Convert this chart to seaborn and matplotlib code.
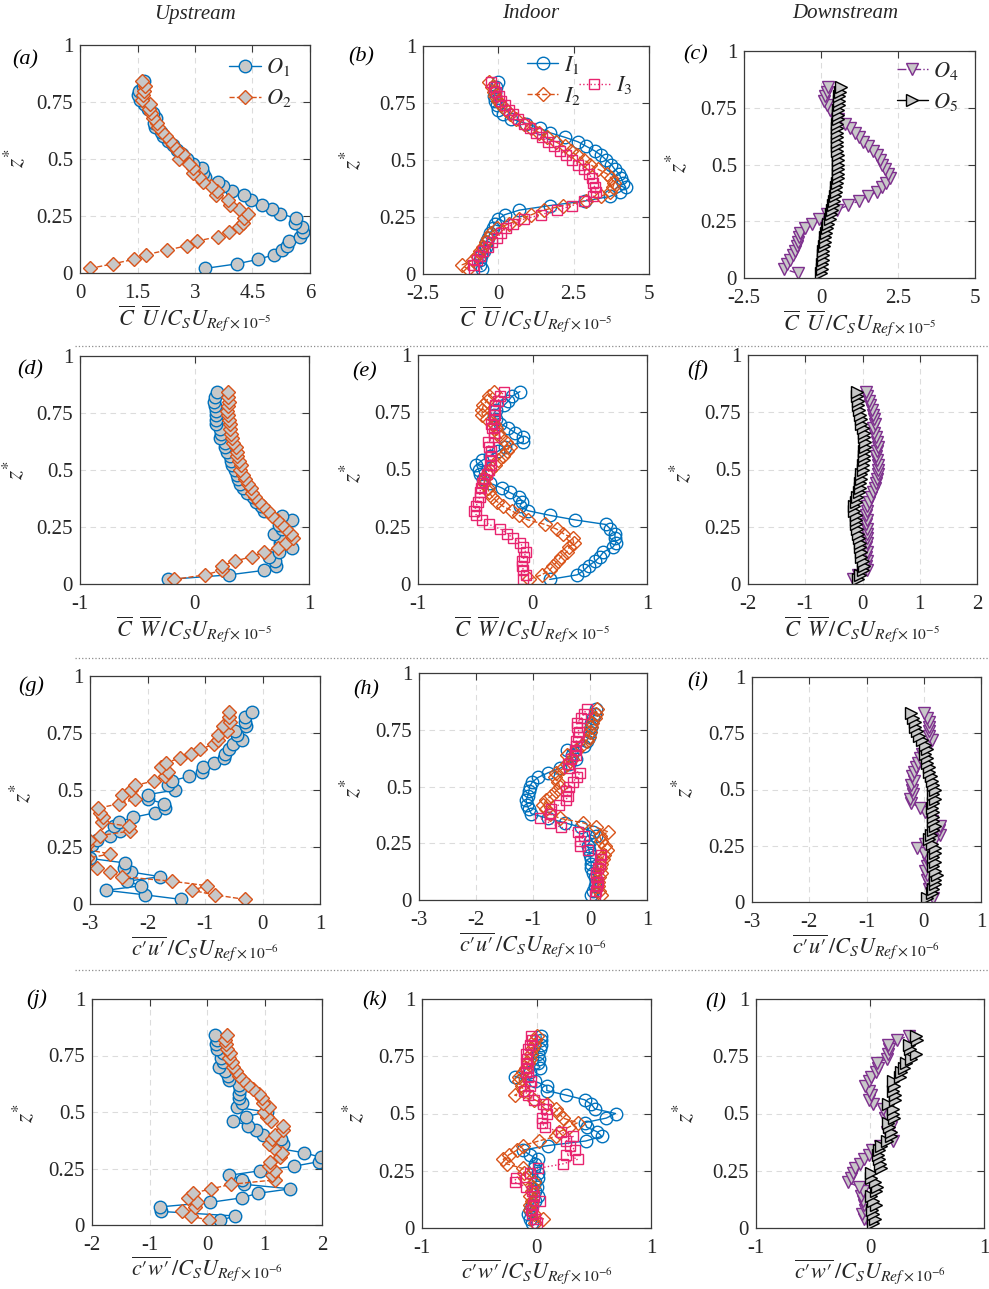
import matplotlib
matplotlib.use('Agg')
import matplotlib.pyplot as plt
import seaborn as sns
from matplotlib.lines import Line2D

# heights z* (same for every profile)
Z = [0.02, 0.04, 0.06, 0.08, 0.10, 0.12, 0.14, 0.16, 0.18, 0.20,
     0.22, 0.24, 0.26, 0.28, 0.30, 0.32, 0.34, 0.36, 0.38, 0.40,
     0.42, 0.44, 0.46, 0.48, 0.50, 0.52, 0.54, 0.56, 0.58, 0.60,
     0.62, 0.64, 0.66, 0.68, 0.70, 0.72, 0.74, 0.76, 0.78, 0.80,
     0.82, 0.84]

# row 1 : C U
a_O1 = [3.26, 4.09, 4.65, 5.06, 5.26, 5.39, 5.45, 5.74, 5.83, 5.80, 5.61, 5.63, 5.23, 5.02, 4.74, 4.45, 4.29, 3.97, 3.72, 3.59,
        3.26, 3.22, 3.17, 2.94, 2.80, 2.65, 2.54, 2.43, 2.30, 2.17, 2.10, 1.96, 1.93, 1.97, 1.90, 1.78, 1.67, 1.57, 1.50, 1.55, 1.65, 1.67]
a_O2 = [0.26, 0.85, 1.41, 1.71, 2.26, 2.80, 3.06, 3.61, 3.90, 4.14, 4.26, 4.29, 4.37, 4.14, 3.91, 3.85, 3.55, 3.57, 3.42, 3.22,
        3.11, 2.96, 2.94, 2.84, 2.57, 2.68, 2.54, 2.43, 2.35, 2.24, 2.13, 2.04, 2.02, 1.91, 1.84, 1.81, 1.83, 1.63, 1.65, 1.67, 1.70, 1.63]
b_I1 = [-0.54, -0.62, -0.60, -0.56, -0.49, -0.42, -0.40, -0.33, -0.27, -0.18, -0.12, -0.01, 0.21, 0.69, 1.70, 2.86, 3.70, 4.03, 4.23, 4.14,
        4.08, 4.00, 3.86, 3.75, 3.58, 3.42, 3.20, 2.92, 2.64, 2.20, 1.70, 1.37, 0.93, 0.43, 0.15, 0.00, -0.05, -0.10, -0.15, -0.12, -0.07, 0.00]
b_I2 = [-1.00, -1.20, -0.85, -0.70, -0.60, -0.50, -0.42, -0.35, -0.25, -0.05, 0.35, 0.70, 1.10, 1.50, 2.15, 2.90, 3.40, 3.70, 3.80, 3.85,
        3.75, 3.60, 3.30, 3.05, 2.85, 2.60, 2.40, 2.20, 1.90, 1.60, 1.35, 1.10, 0.85, 0.60, 0.40, 0.25, 0.10, 0.00, -0.10, -0.15, -0.20, -0.30]
b_I3 = [-0.80, -0.85, -0.70, -0.60, -0.50, -0.35, -0.20, -0.05, 0.10, 0.25, 0.50, 0.85, 1.40, 1.95, 2.45, 2.85, 3.15, 3.25, 3.20, 3.15,
        3.10, 3.00, 2.85, 2.65, 2.45, 2.25, 2.05, 1.85, 1.65, 1.45, 1.25, 1.05, 0.85, 0.65, 0.50, 0.35, 0.22, 0.10, 0.02, -0.08, -0.15, -0.25]
c_O4 = [-0.74, -1.20, -1.11, -1.00, -0.92, -0.84, -0.79, -0.76, -0.70, -0.68, -0.52, -0.30, -0.05, 0.18, 0.51, 0.89, 1.23, 1.54, 1.81, 1.97,
        2.11, 2.24, 2.16, 2.08, 1.97, 1.92, 1.81, 1.70, 1.54, 1.37, 1.24, 1.10, 0.94, 0.78, 0.56, 0.38, 0.29, 0.18, 0.10, 0.13, 0.18, 0.24]
c_O5 = [0.00, 0.02, 0.04, 0.05, 0.06, 0.08, 0.10, 0.12, 0.14, 0.17, 0.20, 0.24, 0.28, 0.32, 0.36, 0.40, 0.43, 0.46, 0.48, 0.50,
        0.52, 0.54, 0.55, 0.56, 0.56, 0.55, 0.54, 0.53, 0.52, 0.52, 0.51, 0.52, 0.52, 0.53, 0.54, 0.55, 0.56, 0.57, 0.58, 0.60, 0.62, 0.64]

# row 2 : C W
d_O1 = [-0.23, 0.30, 0.61, 0.71, 0.70, 0.65, 0.74, 0.85, 0.75, 0.75, 0.69, 0.76, 0.74, 0.85, 0.76, 0.61, 0.58, 0.54, 0.51, 0.46,
        0.42, 0.40, 0.38, 0.37, 0.35, 0.33, 0.32, 0.31, 0.28, 0.27, 0.27, 0.22, 0.23, 0.22, 0.19, 0.19, 0.19, 0.19, 0.18, 0.17, 0.18, 0.20]
d_O2 = [-0.18, 0.09, 0.24, 0.24, 0.35, 0.50, 0.61, 0.73, 0.80, 0.86, 0.84, 0.80, 0.76, 0.72, 0.68, 0.64, 0.60, 0.56, 0.53, 0.50,
        0.49, 0.47, 0.44, 0.42, 0.40, 0.41, 0.39, 0.37, 0.37, 0.36, 0.34, 0.33, 0.32, 0.31, 0.31, 0.30, 0.29, 0.28, 0.29, 0.30, 0.29, 0.29]
e_I1 = [0.15, 0.39, 0.45, 0.49, 0.55, 0.59, 0.62, 0.70, 0.73, 0.72, 0.72, 0.68, 0.64, 0.37, 0.15, -0.04, -0.11, -0.09, -0.12, -0.20,
        -0.27, -0.37, -0.43, -0.46, -0.47, -0.49, -0.44, -0.37, -0.30, -0.24, -0.08, -0.08, -0.15, -0.21, -0.28, -0.32, -0.34, -0.32, -0.25, -0.21, -0.18, -0.11]
e_I2 = [-0.03, 0.08, 0.15, 0.18, 0.22, 0.25, 0.30, 0.32, 0.36, 0.35, 0.27, 0.21, 0.11, -0.04, -0.12, -0.18, -0.26, -0.31, -0.35, -0.38,
        -0.39, -0.42, -0.42, -0.40, -0.37, -0.33, -0.30, -0.26, -0.22, -0.20, -0.23, -0.28, -0.30, -0.32, -0.34, -0.40, -0.44, -0.44, -0.43, -0.40, -0.38, -0.34]
e_I3 = [-0.08, -0.06, -0.08, -0.09, -0.09, -0.07, -0.06, -0.08, -0.11, -0.17, -0.22, -0.28, -0.38, -0.44, -0.49, -0.51, -0.49, -0.48, -0.46, -0.46,
        -0.45, -0.44, -0.42, -0.40, -0.38, -0.36, -0.37, -0.36, -0.36, -0.38, -0.39, -0.34, -0.34, -0.35, -0.36, -0.34, -0.33, -0.34, -0.33, -0.30, -0.28, -0.25]
f_O4 = [-0.17, -0.08, 0.07, 0.06, 0.07, 0.06, 0.07, 0.06, 0.08, 0.07, 0.08, 0.07, 0.06, 0.07, 0.06, 0.07, 0.08, 0.11, 0.14, 0.18,
        0.21, 0.23, 0.25, 0.27, 0.27, 0.27, 0.25, 0.24, 0.25, 0.27, 0.25, 0.23, 0.20, 0.18, 0.21, 0.20, 0.18, 0.17, 0.13, 0.11, 0.08, 0.06]
f_O5 = [-0.08, -0.05, 0.01, 0.02, 0.01, -0.02, -0.02, -0.04, -0.05, -0.06, -0.08, -0.10, -0.11, -0.11, -0.12, -0.14, -0.14, -0.12, -0.10, -0.06,
        -0.05, -0.04, -0.02, -0.02, 0.00, 0.01, 0.02, 0.02, 0.02, 0.04, 0.04, 0.02, 0.02, 0.01, -0.02, -0.03, -0.05, -0.06, -0.08, -0.08, -0.10, -0.10]

# row 3 : c'u'
g_O1 = [-1.41, -2.04, -2.72, -2.12, -2.35, -1.78, -2.28, -2.41, -2.39, -3.00, -3.10, -3.10, -2.96, -2.88, -2.65, -2.47, -2.58, -2.49, -2.25, -1.87,
        -1.70, -1.71, -1.99, -1.99, -1.52, -1.64, -1.58, -1.27, -1.06, -1.04, -0.84, -0.67, -0.65, -0.59, -0.51, -0.36, -0.44, -0.48, -0.29, -0.30, -0.30, -0.19]
g_O2 = [-0.30, -0.83, -1.23, -0.96, -1.58, -2.45, -2.65, -2.88, -3.10, -3.05, -2.65, -3.10, -3.05, -3.02, -2.83, -2.30, -2.32, -2.80, -2.78, -2.83,
        -2.86, -2.49, -2.22, -2.44, -2.28, -2.22, -1.88, -1.70, -1.64, -1.77, -1.68, -1.43, -1.24, -1.09, -0.84, -0.77, -0.77, -0.62, -0.68, -0.57, -0.58, -0.59]
h_I1 = [0.02, 0.05, 0.08, 0.11, 0.08, 0.05, 0.02, 0.02, 0.01, 0.00, -0.02, -0.04, 0.00, 0.10, 0.05, -0.15, -0.44, -0.74, -1.03, -1.07,
        -1.11, -1.12, -1.09, -1.07, -1.06, -1.01, -0.91, -0.74, -0.53, -0.37, -0.24, -0.31, -0.40, -0.11, -0.06, -0.02, 0.00, 0.01, 0.02, 0.05, 0.08, 0.10]
h_I2 = [0.20, 0.16, 0.14, 0.14, 0.16, 0.20, 0.18, 0.20, 0.22, 0.24, 0.29, 0.26, 0.20, 0.17, 0.32, 0.11, -0.12, -0.53, -0.71, -0.78,
        -0.82, -0.77, -0.68, -0.59, -0.53, -0.56, -0.62, -0.59, -0.47, -0.40, -0.31, -0.40, -0.24, -0.15, -0.06, -0.02, 0.00, 0.02, 0.04, 0.08, 0.11, 0.12]
h_I3 = [0.08, 0.11, 0.12, 0.14, 0.11, 0.10, 0.14, 0.17, 0.18, 0.20, -0.04, -0.17, -0.18, -0.11, -0.21, -0.50, -0.71, -0.88, -0.71, -0.68,
        -0.54, -0.42, -0.39, -0.42, -0.37, -0.30, -0.23, -0.18, -0.36, -0.39, -0.33, -0.24, -0.27, -0.25, -0.24, -0.21, -0.19, -0.23, -0.23, -0.15, -0.11, -0.06]
i_O4 = [0.17, 0.13, 0.10, 0.09, 0.06, 0.05, 0.03, 0.06, 0.07, 0.05, 0.00, -0.12, 0.03, 0.19, 0.29, 0.26, 0.28, 0.15, 0.12, 0.03,
        -0.06, -0.23, -0.24, -0.19, -0.20, -0.22, -0.17, -0.20, -0.17, -0.13, -0.10, -0.07, -0.03, 0.03, 0.09, 0.15, 0.10, 0.09, 0.09, 0.10, 0.05, 0.00]
i_O5 = [0.06, 0.15, 0.17, 0.19, 0.20, 0.23, 0.20, 0.17, 0.19, 0.17, 0.19, 0.20, 0.15, 0.10, 0.13, 0.17, 0.19, 0.17, 0.16, 0.17,
        0.15, 0.17, 0.19, 0.17, 0.19, 0.16, 0.15, 0.13, 0.10, 0.09, 0.06, 0.05, 0.03, 0.06, 0.03, -0.03, -0.09, -0.12, -0.15, -0.16, -0.19, -0.22]

# row 4 : c'w'
j_O1 = [0.22, 0.49, -0.80, -0.82, 0.05, 0.60, 0.88, 1.45, 0.65, 0.60, 0.39, 0.92, 1.51, 1.94, 1.98, 1.68, 1.21, 1.33, 1.29, 0.97,
        0.85, 0.72, 0.46, 0.68, 1.04, 0.53, 0.60, 0.56, 0.55, 0.58, 0.55, 0.39, 0.36, 0.32, 0.20, 0.28, 0.24, 0.27, 0.17, 0.16, 0.18, 0.14]
j_O2 = [0.04, -0.28, -0.44, -0.21, -0.18, -0.33, -0.25, 0.07, 0.42, 1.19, 1.13, 1.19, 1.07, 1.10, 1.27, 1.30, 1.17, 1.07, 1.13, 1.19,
        1.33, 1.32, 1.11, 1.04, 0.99, 1.07, 0.98, 0.95, 0.90, 0.80, 0.72, 0.63, 0.56, 0.51, 0.46, 0.43, 0.39, 0.40, 0.34, 0.33, 0.31, 0.34]
k_I1 = [-0.04, -0.06, -0.07, -0.06, -0.04, -0.01, 0.01, -0.01, 0.00, -0.01, 0.01, 0.01, -0.02, -0.01, 0.01, -0.06, -0.12, 0.10, 0.43, 0.57,
        0.53, 0.44, 0.42, 0.61, 0.69, 0.51, 0.48, 0.42, 0.26, 0.09, 0.09, -0.01, -0.19, -0.06, 0.03, 0.01, 0.02, 0.01, 0.03, 0.04, 0.04, 0.04]
k_I2 = [-0.01, 0.06, -0.02, -0.06, -0.06, -0.04, -0.06, -0.04, -0.03, -0.02, -0.10, -0.11, -0.12, -0.26, -0.29, -0.24, -0.17, -0.12, 0.02, 0.17,
        0.20, 0.28, 0.36, 0.23, 0.20, 0.17, 0.09, -0.02, -0.19, -0.11, -0.13, -0.15, -0.15, -0.12, -0.09, -0.07, -0.06, -0.05, -0.04, -0.02, -0.01, 0.00]
k_I3 = [0.00, -0.01, -0.04, -0.05, -0.03, 0.03, -0.02, -0.04, -0.09, -0.19, -0.18, -0.06, 0.01, 0.23, 0.36, 0.26, 0.34, 0.29, 0.26, 0.32,
        0.21, 0.07, 0.05, 0.05, 0.09, 0.08, 0.06, -0.02, -0.07, -0.11, -0.06, -0.05, -0.07, -0.09, -0.07, -0.09, -0.08, -0.09, -0.07, -0.06, -0.04, -0.05]
l_O4 = [-0.01, -0.05, -0.07, -0.04, -0.05, -0.06, -0.08, -0.06, -0.10, -0.19, -0.17, -0.15, -0.13, -0.09, -0.05, -0.01, 0.02, 0.09, 0.20, 0.17,
        0.15, 0.18, 0.17, 0.13, 0.14, 0.11, 0.03, -0.01, 0.01, -0.01, -0.04, -0.01, 0.01, 0.05, 0.07, 0.06, 0.15, 0.16, 0.17, 0.16, 0.24, 0.34]
l_O5 = [0.03, 0.04, 0.03, 0.02, 0.05, 0.03, 0.01, 0.05, 0.06, 0.04, 0.01, 0.01, 0.10, 0.09, 0.08, 0.07, 0.08, 0.10, 0.15, 0.18,
        0.18, 0.17, 0.16, 0.21, 0.20, 0.20, 0.16, 0.22, 0.22, 0.20, 0.21, 0.20, 0.26, 0.27, 0.30, 0.32, 0.36, 0.40, 0.35, 0.34, 0.41, 0.40]

sns.set_theme(style='white')
plt.rcParams['font.family'] = ['Liberation Serif', 'DejaVu Serif']
plt.rcParams['mathtext.fontset'] = 'stix'
plt.rcParams['axes.unicode_minus'] = False

GRAY = '#C8C8C8'
STYLES = {
    'O1': dict(color='#0072BD', marker='o', linestyle='-', markerfacecolor=GRAY, markersize=9),
    'O2': dict(color='#D95319', marker='D', linestyle='--', markerfacecolor=GRAY, markersize=7),
    'I1': dict(color='#0072BD', marker='o', linestyle='-', markerfacecolor='none', markersize=9),
    'I2': dict(color='#D95319', marker='D', linestyle='--', markerfacecolor='none', markersize=7),
    'I3': dict(color='#E8246F', marker='s', linestyle=':', markerfacecolor='none', markersize=6.5),
    'O4': dict(color='#7E2F8E', marker='v', linestyle='-.', markerfacecolor=GRAY, markersize=9),
    'O5': dict(color='black', marker='>', linestyle='-', markerfacecolor=GRAY, markersize=9),
}
LABELS = {'O1': '$O_1$', 'O2': '$O_2$', 'I1': '$I_1$', 'I2': '$I_2$', 'I3': '$I_3$', 'O4': '$O_4$', 'O5': '$O_5$'}

XL_U = r'$\overline{C}\;\;\overline{U}\,/C_S U_{Ref\times10^{-5}}$'
XL_W = r'$\overline{C}\;\;\overline{W}\,/C_S U_{Ref\times10^{-5}}$'
XL_CU = '$\\overline{c\u2032u\u2032}\\,/C_S U_{Ref\\times10^{-6}}$'
XL_CW = '$\\overline{c\u2032w\u2032}\\,/C_S U_{Ref\\times10^{-6}}$'

W, H = 989, 1289
fig = plt.figure(figsize=(W / 100, H / 100), dpi=100)

# key, axes box (left, top, right, bottom px), xticks, xlabel, series, tag pos, z* pos
panels = [
    ('a', (80, 45, 310, 273), [0, 1.5, 3, 4.5, 6], XL_U, [('O1', a_O1), ('O2', a_O2)], (12, 60), (16, 158)),
    ('b', (423, 46, 649, 274), [-2.5, 0, 2.5, 5], XL_U, [('I1', b_I1), ('I2', b_I2), ('I3', b_I3)], (348, 57), (352, 160)),
    ('c', (744, 51, 975, 278), [-2.5, 0, 2.5, 5], XL_U, [('O4', c_O4), ('O5', c_O5)], (683, 55), (678, 163)),
    ('d', (80, 356, 309, 584), [-1, 0, 1], XL_W, [('O1', d_O1), ('O2', d_O2)], (17, 370), (15, 470)),
    ('e', (418, 355, 647, 584), [-1, 0, 1], XL_W, [('I1', e_I1), ('I2', e_I2), ('I3', e_I3)], (352, 372), (352, 473)),
    ('f', (748, 355, 977, 584), [-2, -1, 0, 1, 2], XL_W, [('O4', f_O4), ('O5', f_O5)], (687, 370), (682, 473)),
    ('g', (90, 676, 320, 904), [-3, -2, -1, 0, 1], XL_CU, [('O1', g_O1), ('O2', g_O2)], (18, 686), (22, 793)),
    ('h', (419, 673, 647, 900), [-3, -2, -1, 0, 1], XL_CU, [('I1', h_I1), ('I2', h_I2), ('I3', h_I3)], (353, 690), (352, 788)),
    ('i', (752, 677, 981, 902), [-3, -2, -1, 0, 1], XL_CU, [('O4', i_O4), ('O5', i_O5)], (687, 682), (684, 788)),
    ('j', (92, 999, 322, 1225), [-2, -1, 0, 1, 2], XL_CW, [('O1', j_O1), ('O2', j_O2)], (26, 999), (25, 1113)),
    ('k', (422, 999, 651, 1228), [-1, 0, 1], XL_CW, [('I1', k_I1), ('I2', k_I2), ('I3', k_I3)], (362, 1001), (355, 1113)),
    ('l', (756, 999, 984, 1228), [-1, 0, 1], XL_CW, [('O4', l_O4), ('O5', l_O5)], (705, 1003), (685, 1113)),
]

FRAME = '#3a3a3a'
axes = {}
for key, (l, t, r, b), xticks, xlabel, series, tagpos, zpos in panels:
    ax = fig.add_axes([l / W, 1 - b / H, (r - l) / W, (b - t) / H])
    for name, vals in series:
        st = STYLES[name]
        sns.lineplot(x=vals, y=Z, orient='y', estimator=None, errorbar=None, ax=ax,
                     linewidth=1.0, markeredgewidth=1.0, markeredgecolor=st['color'], **st)
    ax.set_xlim(xticks[0], xticks[-1])
    ax.set_ylim(0, 1)
    ax.set_xticks(xticks)
    ax.set_xticklabels(['{:g}'.format(v) for v in xticks])
    ax.set_yticks([0, 0.25, 0.5, 0.75, 1])
    ax.set_yticklabels(['0', '0.25', '0.5', '0.75', '1'])
    ax.set_axisbelow(True)
    ax.grid(True, linestyle=(0, (5, 4)), color='#dcdcdc', linewidth=0.8)
    for sp in ax.spines.values():
        sp.set_color(FRAME)
        sp.set_linewidth(0.9)
    ax.tick_params(direction='in', top=True, right=True, length=5, width=0.8,
                   colors=FRAME, labelsize=15)
    ax.tick_params(axis='x', pad=8)
    ax.tick_params(axis='y', pad=5)
    for tl in ax.get_xticklabels() + ax.get_yticklabels():
        tl.set_color('#262626')
    ax.set_xlabel(xlabel, fontsize=16, labelpad=0 if b < 1200 else -1, color='#262626')
    ax.set_ylabel('')
    fig.text(tagpos[0] / W, 1 - tagpos[1] / H, '(' + key + ')', fontsize=16, style='italic',
             ha='left', va='center', color='black')
    fig.text(zpos[0] / W, 1 - zpos[1] / H, r'$z^{*}$', fontsize=17, rotation=90,
             ha='center', va='center', color='#262626')
    axes[key] = ax


def add_legend(ax, names, anchor, loc):
    handles = [Line2D([], [], linewidth=1.0, markeredgewidth=1.0, markeredgecolor=STYLES[n]['color'], **STYLES[n])
               for n in names]
    leg = ax.legend(handles, [LABELS[n] for n in names], loc=loc, bbox_to_anchor=anchor,
                    frameon=False, fontsize=16, handlelength=1.4, handletextpad=0.25,
                    labelspacing=0.4, borderaxespad=0, borderpad=0)
    return leg


add_legend(axes['a'], ['O1', 'O2'], (0.92, 0.95), 'upper right')
leg_b = add_legend(axes['b'], ['I1', 'I2'], (0.46, 0.965), 'upper left')
axes['b'].add_artist(leg_b)
add_legend(axes['b'], ['I3'], (0.69, 0.875), 'upper left')
add_legend(axes['c'], ['O4', 'O5'], (0.93, 0.96), 'upper right')

for x, title in [(195, 'Upstream'), (531, 'Indoor'), (845, 'Downstream')]:
    fig.text(x / W, 1 - 14 / H, title, fontsize=15, style='italic', ha='center', va='center')

for y in [346, 658, 970]:
    fig.add_artist(Line2D([75 / W, 1.0], [1 - y / H, 1 - y / H], linestyle=':', color='#8c8c8c', linewidth=0.9))

fig.savefig('out.png', dpi=100)
